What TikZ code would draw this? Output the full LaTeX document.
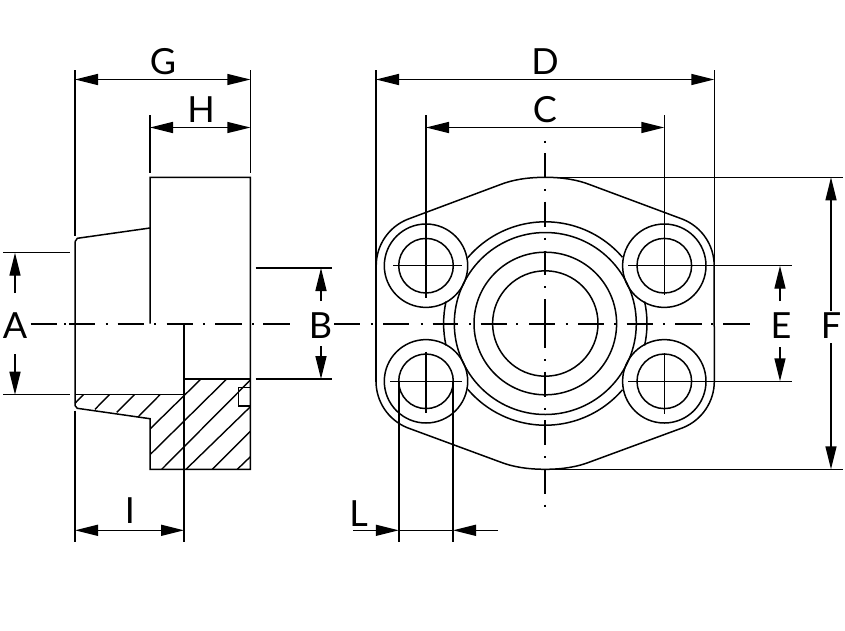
\documentclass[tikz,border=0pt]{standalone}
\usepackage{fontspec}
\setmainfont{Lato}
\usetikzlibrary{arrows.meta}
\tikzset{
  ln/.style={line width=1.5pt,black},
  thin ln/.style={line width=1.45pt,black},
  hatch/.style={line width=1.4pt,black},
  dim/.style={line width=1.4pt,black,-{Triangle[length=23pt,width=11pt]}},
  dimboth/.style={line width=1.4pt,black,{Triangle[length=23pt,width=11pt]}-{Triangle[length=23pt,width=11pt]}},
  ctr/.style={line width=1.9pt,black},
  lab/.style={font=\fontsize{36}{36}\selectfont,inner sep=0pt,text=black,fill=none}
}
\begin{document}
\begin{tikzpicture}[x=1pt,y=-1pt]
\useasboundingbox (0,0) rectangle (845,630);
\fill[white] (0,0) rectangle (845,630);
% key points
\coordinate (c) at (545.3,323.5);
\coordinate (ul) at (426,265.7);
\coordinate (ur) at (664.3,265.7);
\coordinate (ll) at (426,381.3);
\coordinate (lr) at (664.3,381.3);

% ---------- side view ----------
\draw[ln] (75,241.7) -- (77.3,238.3) -- (150,228);
\draw[ln] (150,323.5) -- (150,177.3) -- (250.4,177.3) -- (250.4,469.3) -- (150,469.3) -- (150,418.7) -- (77.3,408.3) -- (75,405.5) -- (75,241.7);
\draw[ln] (75,394.7) -- (184,394.7);
\draw[ln] (184,379) -- (250.4,379);
\draw[ln] (250.4,387.7) -- (238.7,387.7) -- (238.7,406) -- (250.4,406);
% hatching
\draw[hatch] (75,403.3) -- (83.3,394.7);
\draw[hatch] (95,409.3) -- (109.3,394.7);
\draw[hatch] (116.7,412.3) -- (134.3,394.7);
\draw[hatch] (138.3,416.7) -- (160,394.7);
\draw[hatch] (150.7,428.3) -- (201,379);
\draw[hatch] (150.7,454) -- (226.7,379);
\draw[hatch] (161.7,469.3) -- (250.4,380);
\draw[hatch] (186,469.3) -- (250.4,406.7);
\draw[hatch] (212.3,469.3) -- (250.4,431.3);
\draw[hatch] (237.3,469.3) -- (250.4,456.7);

% ---------- front view ----------
\draw[ln] (376.2,265.7) arc[start angle=180,end angle=248,radius=50]
  -- (500,184.7) .. controls (512.4,179.8) and (527.4,177.3) .. (545.3,177.3)
  .. controls (562.6,177.3) and (577.6,179.8) .. (590,184.7)
  -- (682.9,219.3) arc[start angle=292,end angle=360,radius=50]
  -- (714.3,381.3) arc[start angle=0,end angle=68,radius=50]
  -- (590,461.9) .. controls (577.6,466.8) and (562.6,469.3) .. (545.3,469.3)
  .. controls (527.4,469.3) and (512.4,466.8) .. (500,461.9)
  -- (407.3,427.7) arc[start angle=112,end angle=180,radius=50] -- cycle;
\foreach \p in {ul,ur,ll,lr}{
  \draw[ln] (\p) circle[radius=41.7];
  \draw[ln] (\p) circle[radius=27.3];
}
\draw[ln] (c) circle[radius=52.7];
\draw[ln] (c) circle[radius=71.3];
\draw[ln] (c) circle[radius=91];
\draw[ln] (c) ++(220.3:101.7) arc[start angle=220.3,end angle=319.3,radius=101.7];
\draw[ln] (c) ++(40.7:101.7) arc[start angle=40.7,end angle=139.7,radius=101.7];
\draw[ln] (c) ++(167.5:101.7) arc[start angle=167.5,end angle=192.5,radius=101.7];
\draw[ln] (c) ++(-12.5:101.7) arc[start angle=-12.5,end angle=12.5,radius=101.7];
% bolt crosshairs
\draw[thin ln] (393.3,265.7) -- (461.7,265.7);
\draw[thin ln] (390,381.3) -- (461.7,381.3);
\draw[thin ln] (426,351.7) -- (426,413);
\draw[thin ln] (664.3,353) -- (664.3,414);
% flange left edge overlap
\draw[line width=1.8pt] (375.6,264) -- (375.6,382);

% ---------- centre lines ----------
\foreach \a/\b in {30.7/56.7,69/95,117.7/144,166.7/192.7,215/241.7,263.3/290,334/360,383.3/409.3,432.7/458.3,480.7/506.7,529.3/555,578.3/604.3,626.7/652.7,675/701.7,723.3/750}
  \draw[ctr] (\a,323.7) -- (\b,323.7);
\foreach \a in {65,106.7,155,204,253,371.7,421.7,470,517,566.7,615,664,712.3}
  \draw[ctr] (\a-1,323.7) -- (\a+1,323.7);
\foreach \a/\b in {153/178,201.7/226.7,250.7/275,299.3/348.3,371.7/396.7,420/445,470/494}
  \draw[ctr] (545.3,\a) -- (545.3,\b);
\foreach \a in {141.7,190,238.7,287.3,360,408.7,457.3,505.5}
  \draw[ctr] (545.3,\a-1) -- (545.3,\a+1);

% ---------- extension lines ----------
\draw[thin ln] (75,70) -- (75,236);
\draw[thin ln] (75,410.7) -- (75,541.5);
\draw[thin ln] (250.4,70) -- (250.4,172.7);
\draw[thin ln] (150,115) -- (150,172.7);
\draw[thin ln] (184,323.5) -- (184,541.5);
\draw[thin ln] (3,252.7) -- (70,252.7);
\draw[thin ln] (3,394.7) -- (70,394.7);
\draw[thin ln] (255.7,268) -- (332,268);
\draw[thin ln] (255.7,379) -- (332,379);
\draw[thin ln] (376,70) -- (376,265);
\draw[thin ln] (714.3,70) -- (714.3,265);
\draw[thin ln] (426,115) -- (426,298);
\draw[thin ln] (664.3,115) -- (664.3,295);
\draw[thin ln] (628.3,265.7) -- (792,265.7);
\draw[thin ln] (628.3,381.3) -- (792,381.3);
\draw[thin ln] (545.3,177.3) -- (843,177.3);
\draw[thin ln] (545.3,469.3) -- (843,469.3);
\draw[thin ln] (398.8,381.3) -- (398.8,541.5);
\draw[thin ln] (453,381.3) -- (453,541.5);

% ---------- dimensions ----------
\draw[dimboth] (75,79.5) -- (250.4,79.5);
\draw[dimboth] (150,127.5) -- (250.4,127.5);
\draw[dimboth] (376,79.5) -- (714.3,79.5);
\draw[dimboth] (426,127.5) -- (664.3,127.5);
\draw[dimboth] (75,530.3) -- (184,530.3);
\draw[dim] (15,293) -- (15,252.7);
\draw[dim] (15,354.3) -- (15,394.7);
\draw[dim] (321,301) -- (321,268);
\draw[dim] (321,346) -- (321,379);
\draw[dim] (780,301) -- (780,265.7);
\draw[dim] (780,347) -- (780,381.3);
\draw[dim] (831,311) -- (831,177.3);
\draw[dim] (831,343) -- (831,469.3);
\draw[dim] (353,530.3) -- (398.8,530.3);
\draw[dim] (498,530.3) -- (453,530.3);
\draw[thin ln] (398.8,530.3) -- (453,530.3);

% ---------- labels ----------
\node[lab] (lblG) at (163,61.5) {G};
\node[lab] (lblH) at (201,109.5) {H};
\node[lab] (lblD) at (545,61.5) {D};
\node[lab] (lblC) at (545,109.5) {C};
\node[lab] (lblA) at (15,326) {A};
\node[lab] (lblB) at (320.5,326) {B};
\node[lab] (lblE) at (781,326) {E};
\node[lab] (lblF) at (831,326) {F};
\node[lab] (lblI) at (130,511) {I};
\node[lab] (lblL) at (358.5,513.5) {L};
\end{tikzpicture}
\end{document}
